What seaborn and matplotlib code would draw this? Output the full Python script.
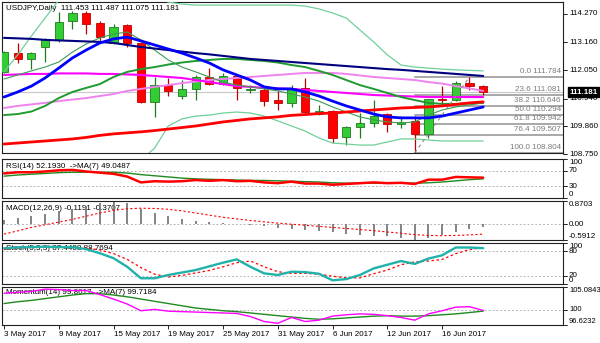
import numpy as np
import pandas as pd
import matplotlib
matplotlib.use("Agg")
import matplotlib.pyplot as plt
import matplotlib.transforms as mtransforms
from matplotlib.patches import Rectangle
import seaborn as sns

# ---- daily sessions -------------------------------------------------------
sessions = pd.bdate_range("2017-05-03", "2017-06-21")
tick_dates = ["2017-05-03", "2017-05-09", "2017-05-15", "2017-05-19", "2017-05-25",
              "2017-05-31", "2017-06-06", "2017-06-12", "2017-06-16"]

# ---- USDJPY daily OHLC ----------------------------------------------------
opens = [111.99, 112.73, 112.50, 112.97, 113.25, 113.99, 114.31, 113.92, 113.13, 113.84,
         113.13, 110.81, 111.47, 111.04, 111.32, 111.79, 111.51, 111.83, 111.28, 111.28,
         110.88, 110.77, 111.36, 110.33, 110.45, 109.43, 109.82, 109.98, 110.33, 109.94,
         110.06, 109.55, 110.92, 110.88, 111.55, 111.453]
highs = [112.80, 113.13, 112.77, 113.33, 114.35, 114.37, 114.37, 113.99, 113.88, 113.88,
         113.17, 111.79, 111.75, 111.67, 111.87, 112.14, 111.95, 111.87, 111.47, 111.40,
         111.24, 111.47, 111.75, 110.69, 110.49, 109.86, 110.37, 110.88, 110.37, 110.25,
         110.25, 110.94, 111.44, 111.63, 111.784, 111.487]
lows = [111.95, 112.34, 112.10, 112.38, 113.17, 113.68, 113.48, 113.21, 113.09, 112.97,
        110.77, 110.22, 111.04, 110.92, 110.88, 111.47, 111.47, 110.88, 111.16, 110.65,
        110.49, 110.61, 110.37, 110.30, 109.19, 109.11, 109.39, 109.82, 109.62, 109.78,
        108.804, 109.39, 110.65, 110.84, 111.28, 111.075]
closes = [112.77, 112.50, 112.73, 113.29, 113.96, 114.31, 113.88, 113.36, 113.76, 113.13,
          110.81, 111.47, 111.24, 111.32, 111.79, 111.51, 111.83, 111.36, 111.32, 110.84,
          110.77, 111.36, 110.41, 110.45, 109.39, 109.82, 109.98, 110.25, 109.94, 110.02,
          109.55, 110.92, 110.88, 111.55, 111.43, 111.181]

# ---- moving averages and Bollinger bands on the price chart ---------------
ma_navy = [113.33, 113.31, 113.29, 113.25, 113.23, 113.21, 113.19, 113.17, 113.13, 113.05,
           112.97, 112.91, 112.85, 112.79, 112.73, 112.68, 112.62, 112.56, 112.50, 112.46,
           112.42, 112.38, 112.34, 112.30, 112.26, 112.22, 112.18, 112.14, 112.10, 112.07,
           112.03, 111.99, 111.95, 111.91, 111.87, 111.83]
ma_blue = [111.00, 111.20, 111.43, 111.75, 112.14, 112.54, 112.85, 113.13, 113.29, 113.36,
           113.21, 113.05, 112.89, 112.73, 112.54, 112.34, 112.07, 111.87, 111.67, 111.40,
           111.32, 111.32, 111.20, 111.04, 110.84, 110.65, 110.49, 110.33, 110.22, 110.18,
           110.18, 110.18, 110.25, 110.37, 110.49, 110.61]
ma_magenta = [111.87, 111.89, 111.91, 111.91, 111.93, 111.93, 111.93, 111.91, 111.91, 111.89,
              111.87, 111.83, 111.79, 111.75, 111.67, 111.59, 111.51, 111.43, 111.40, 111.36,
              111.34, 111.32, 111.28, 111.24, 111.20, 111.16, 111.12, 111.08, 111.06, 111.04,
              111.02, 111.00, 111.00, 111.00, 111.00, 111.00]
ma_violet = [110.57, 110.65, 110.71, 110.77, 110.84, 110.90, 110.96, 111.04, 111.12, 111.24,
             111.32, 111.40, 111.47, 111.55, 111.61, 111.67, 111.71, 111.75, 111.79, 111.83,
             111.87, 111.91, 111.95, 111.95, 111.95, 111.91, 111.85, 111.79, 111.75, 111.71,
             111.67, 111.59, 111.53, 111.43, 111.34, 111.24]
bb_middle = [110.29, 110.33, 110.43, 110.65, 110.96, 111.20, 111.36, 111.51, 111.79, 111.99,
             112.10, 112.18, 112.28, 112.36, 112.42, 112.46, 112.50, 112.50, 112.46, 112.42,
             112.36, 112.26, 112.18, 112.03, 111.87, 111.67, 111.47, 111.32, 111.16, 111.00,
             110.88, 110.77, 110.73, 110.73, 110.75, 110.77]
ma_fast = [111.71, 111.87, 112.03, 112.18, 112.38, 112.77, 113.09, 113.33, 113.48, 113.56,
           113.25, 112.85, 112.46, 112.18, 111.99, 111.79, 111.59, 111.47, 111.40, 111.32,
           111.24, 111.12, 111.00, 110.84, 110.61, 110.41, 110.22, 110.10, 110.02, 109.98,
           110.02, 110.29, 110.49, 110.61, 110.69, 110.77]
ma_red = [109.15, 109.19, 109.23, 109.27, 109.31, 109.35, 109.41, 109.49, 109.55, 109.59,
          109.63, 109.68, 109.74, 109.80, 109.86, 109.94, 110.02, 110.08, 110.14, 110.18,
          110.22, 110.28, 110.31, 110.35, 110.37, 110.41, 110.45, 110.49, 110.53, 110.57,
          110.59, 110.61, 110.65, 110.71, 110.77, 110.81]
bb_upper = [111.99, 112.66, 113.40, 114.11, 114.82, 115.14, 115.21, 115.29, 115.29, 115.21,
            115.06, 114.90, 114.74, 114.66, 114.62, 114.62, 114.62, 114.62, 114.62, 114.62,
            114.62, 114.62, 114.58, 114.47, 114.31, 114.11, 113.64, 113.17, 112.66, 112.26,
            112.18, 112.14, 112.10, 112.07, 112.05, 112.03]
bb_lower = [107.60, 107.60, 107.50, 107.50, 107.60, 107.70, 107.90, 108.00, 108.20, 108.40,
            108.52, 108.99, 109.86, 110.14, 110.25, 110.29, 110.37, 110.41, 110.37, 110.25,
            110.06, 109.86, 109.66, 109.39, 109.19, 109.15, 109.11, 109.11, 109.23, 109.35,
            109.35, 109.31, 109.27, 109.27, 109.27, 109.27]

# ---- Fibonacci retracement of the 108.804 -> 111.784 swing ------------------
fib_pct = ["0.0", "23.6", "38.2", "50.0", "61.8", "76.4", "100.0"]
fib_levels = [111.784, 111.081, 110.646, 110.294, 109.942, 109.507, 108.804]
swing_low_bar, swing_high_bar = 30, 34

price_ticks = [114.270, 113.160, 112.050, 110.940, 109.860, 108.750]
last_price = 111.181

# ---- oscillators ------------------------------------------------------------
rsi = [63, 66, 66, 68, 71, 72, 68, 65, 62, 55, 40, 43, 42, 43, 46, 44, 46, 43, 44, 40,
       38, 42, 37, 37, 34, 36, 38, 40, 38, 39, 36, 47, 47, 54, 53, 52.193]
rsi_ma = [56, 59, 61, 63, 65, 66, 66, 66, 66, 64, 60, 57, 54, 51, 49, 48, 47, 46, 45, 45,
          44, 43, 42, 41, 39, 38, 38, 38, 38, 38, 38, 39, 41, 44, 47, 49.0487]
macd = [0.17, 0.24, 0.31, 0.39, 0.49, 0.58, 0.68, 0.79, 0.87, 0.78,
        0.58, 0.41, 0.29, 0.20, 0.12, 0.08, 0.05, 0.02, -0.02, -0.08,
        -0.13, -0.17, -0.21, -0.25, -0.30, -0.35, -0.39, -0.43, -0.45, -0.50,
        -0.59, -0.52, -0.40, -0.29, -0.19, -0.1191]
macd_signal = [-0.37, -0.25, -0.12, -0.02, 0.08, 0.18, 0.30, 0.42, 0.52, 0.58,
               0.60, 0.59, 0.56, 0.50, 0.42, 0.34, 0.26, 0.20, 0.14, 0.09,
               0.04, 0.00, -0.04, -0.08, -0.12, -0.16, -0.20, -0.24, -0.29, -0.34,
               -0.39, -0.42, -0.43, -0.42, -0.40, -0.3707]
stoch_k = [87, 89, 90, 91, 90, 90, 85, 75, 63, 42, 14, 14, 22, 28, 34, 43, 52, 60, 42, 26,
           22, 30, 29, 25, 9, 12, 22, 38, 47, 56, 49, 62, 70, 89, 89, 87.4488]
stoch_d = [84, 87, 89, 90, 90, 90, 88, 83, 74, 60, 40, 24, 17, 21, 27, 33, 42, 52, 56, 42,
           30, 26, 26, 24, 19, 15, 15, 25, 34, 47, 54, 56, 60, 74, 84, 88.7694]
momentum = [103.7, 103.9, 104.1, 104.6, 104.5, 104.3, 104.3, 103.4, 102.4, 101.3,
            99.8, 100.1, 99.7, 99.6, 99.5, 99.4, 99.3, 99.2, 98.5, 97.4,
            97.0, 98.3, 97.4, 97.7, 98.6, 98.9, 99.1, 99.0, 98.7, 98.3,
            97.7, 99.1, 99.8, 100.6, 100.7, 99.8617]
momentum_ma = [101.4, 101.8, 102.1, 102.5, 102.9, 103.3, 103.6, 103.6, 103.3, 102.9,
               102.4, 101.9, 101.4, 100.9, 100.4, 100.1, 99.8, 99.6, 99.3, 99.0,
               98.7, 98.4, 98.1, 97.9, 98.0, 98.2, 98.4, 98.6, 98.7, 98.6,
               98.6, 98.7, 98.9, 99.1, 99.4, 99.7184]

macd_range = (-0.5912, 0.8703)
momentum_range = (96.6232, 105.0843)

# ---- figure ---------------------------------------------------------------
sns.set_style("white")
plt.rcParams["font.family"] = ["Liberation Sans", "DejaVu Sans"]
plt.rcParams["font.size"] = 5.8

W, H = 600, 343
PLOT_W = 561
fig = plt.figure(figsize=(W / 100, H / 100), dpi=100)
fig.patch.set_facecolor("white")


def panel(top, bottom, left=2, right=563):
    return fig.add_axes([left / W, 1 - bottom / H, (right - left) / W, (bottom - top) / H])


ax_main = panel(2, 153)
ax_rsi = panel(159, 198)
ax_macd = panel(201, 240)
ax_sto = panel(243, 284)
ax_mom = panel(287, 325)
all_axes = [ax_main, ax_rsi, ax_macd, ax_sto, ax_mom]

x = np.arange(len(sessions))
xlim = (-0.146, 40.83)
dotted = dict(color="#b4b4b4", lw=0.7, ls=(0, (2, 2)), zorder=1)


def right_labels(ax, values, texts, vas, size=5.8):
    trans = mtransforms.blended_transform_factory(ax.transAxes, ax.transData)
    for v, t, va in zip(values, texts, vas):
        ax.plot([1, 1 + 4 / PLOT_W], [v, v], transform=trans, color="black",
                lw=0.6, clip_on=False)
        ax.text(1 + 6 / PLOT_W, v, t, transform=trans, ha="left", va=va,
                clip_on=False, color="black", fontsize=size)


def title(ax, text, px_top, height_px):
    ax.text(4 / PLOT_W, 1 - px_top / height_px, text, transform=ax.transAxes,
            ha="left", va="top", color="black", zorder=0.5)


# ---- price panel ------------------------------------------------------------
ax_main.axhline(last_price, color="#c8c8c8", lw=0.8, zorder=1)

tr_main = mtransforms.blended_transform_factory(ax_main.transAxes, ax_main.transData)
for p, v in zip(fib_pct, fib_levels):
    ax_main.plot([swing_low_bar, xlim[1]], [v, v], color="#a8a8a8", lw=1.4, zorder=1.2)
    ax_main.annotate(f"{p} {v:.3f}", xy=(1, v), xycoords=tr_main, xytext=(-1.5, 1.2),
                     textcoords="offset points", ha="right", va="bottom",
                     color="#7a7a7a", zorder=1.3)

for i in range(len(opens)):
    o, h, l, c = opens[i], highs[i], lows[i], closes[i]
    up = c >= o
    face = "#32cd32" if up else "#ff0000"
    edge = "#1f7a1f" if up else "#c00000"
    ax_main.plot([i, i], [l, h], color=edge, lw=0.9, zorder=2, solid_capstyle="butt")
    body = max(abs(c - o), 0.012)
    ax_main.add_patch(Rectangle((i - 0.3, min(o, c)), 0.6, body, facecolor=face,
                                edgecolor=edge, lw=0.6, zorder=3))

price_lines = [
    (bb_upper, "#6fd09a", 0.9),
    (bb_lower, "#6fd09a", 0.9),
    (ma_violet, "#ee82ee", 1.4),
    (ma_magenta, "#ff00ff", 1.5),
    (bb_middle, "#1f9a2f", 1.4),
    (ma_fast, "#3c9a55", 0.8),
    (ma_red, "#ff0000", 2.0),
    (ma_navy, "#000080", 1.5),
    (ma_blue, "#0000ff", 2.0),
]
for vals, col, lw in price_lines:
    sns.lineplot(x=x, y=vals, ax=ax_main, color=col, linewidth=lw, zorder=4)

ax_main.plot([swing_low_bar, swing_high_bar], [lows[swing_low_bar], highs[swing_high_bar]],
             color="#8c8c8c", lw=0.8, ls=(0, (3, 3)), zorder=4.5)

ax_main.set_ylim(108.797, 114.742)
right_labels(ax_main, price_ticks, [f"{v:.3f}" for v in price_ticks], ["center"] * 6)
ax_main.text(1 + 6 / PLOT_W, last_price, f"{last_price:.3f}", transform=tr_main,
             ha="left", va="center", color="white", clip_on=False, zorder=10,
             fontweight="bold",
             bbox=dict(boxstyle="square,pad=0.18", facecolor="black", edgecolor="black"))
title(ax_main, f"USDJPY,Daily  {opens[-1]:.3f} {highs[-1]:.3f} {lows[-1]:.3f} {closes[-1]:.3f}",
      3.5, 151)

# ---- RSI ---------------------------------------------------------------------
for lvl in (70, 30):
    ax_rsi.axhline(lvl, **dotted)
sns.lineplot(x=x, y=rsi_ma, ax=ax_rsi, color="#1f8a1f", linewidth=1.0, zorder=3)
sns.lineplot(x=x, y=rsi, ax=ax_rsi, color="#ff0000", linewidth=1.8, zorder=4)
ax_rsi.set_ylim(0, 100)
right_labels(ax_rsi, [100, 70, 30, 0], ["100", "70", "30", "0"],
             ["top", "center", "center", "bottom"])
title(ax_rsi, f"RSI(14) {rsi[-1]:.4f}  ->MA(7) {rsi_ma[-1]:.4f}", 3.5, 39)

# ---- MACD --------------------------------------------------------------------
ax_macd.axhline(0, **dotted)
ax_macd.vlines(x, 0, macd, color="#7a7a7a", lw=1.3, zorder=2)
sns.lineplot(x=x, y=macd_signal, ax=ax_macd, color="#ff0000", linewidth=0.8,
             linestyle=(0, (2, 2)), zorder=3)
ax_macd.set_ylim(*macd_range)
right_labels(ax_macd, [macd_range[1], 0, macd_range[0]],
             [f"{macd_range[1]:.4f}", "0.00", f"{macd_range[0]:.4f}"],
             ["top", "center", "bottom"])
title(ax_macd, f"MACD(12,26,9) {macd[-1]:.4f} {macd_signal[-1]:.4f}", 3.5, 39)

# ---- Stochastic ------------------------------------------------------------
for lvl in (80, 20):
    ax_sto.axhline(lvl, **dotted)
sns.lineplot(x=x, y=stoch_d, ax=ax_sto, color="#ff0000", linewidth=0.9,
             linestyle=(0, (2, 2)), zorder=3)
sns.lineplot(x=x, y=stoch_k, ax=ax_sto, color="#20b2aa", linewidth=1.7, zorder=4)
ax_sto.set_ylim(0, 100)
right_labels(ax_sto, [100, 80, 20, 0], ["100", "80", "20", "0"],
             ["top", "center", "center", "bottom"])
title(ax_sto, f"Stoch(5,3,3) {stoch_k[-1]:.4f} {stoch_d[-1]:.4f}", 1.5, 41)

# ---- Momentum ----------------------------------------------------------------
ax_mom.axhline(100, **dotted)
sns.lineplot(x=x, y=momentum_ma, ax=ax_mom, color="#1f8a1f", linewidth=1.0, zorder=3)
sns.lineplot(x=x, y=momentum, ax=ax_mom, color="#ff00ff", linewidth=1.0, zorder=4)
ax_mom.set_ylim(*momentum_range)
right_labels(ax_mom, [momentum_range[1], 100, momentum_range[0]],
             [f"{momentum_range[1]:.4f}", "100", f"{momentum_range[0]:.4f}"],
             ["top", "center", "bottom"], size=5.5)
title(ax_mom, f"Momentum(14) {momentum[-1]:.4f}  ->MA(7) {momentum_ma[-1]:.4f}", 2.5, 38)

# ---- shared styling -------------------------------------------------------
for ax in all_axes:
    ax.set_xlim(*xlim)
    ax.set_facecolor("white")
    ax.set_xlabel("")
    ax.set_ylabel("")
    ax.set_yticks([])
    ax.grid(False)
    for s in ax.spines.values():
        s.set_visible(True)
        s.set_color("#202020")
        s.set_linewidth(0.8)
    if ax is not ax_mom:
        ax.set_xticks([])

tick_idx = [int(np.where(sessions == pd.Timestamp(d))[0][0]) for d in tick_dates]
tick_text = [f"{sessions[i].day} {sessions[i].strftime('%b %Y')}" for i in tick_idx]
ax_mom.set_xticks(tick_idx)
ax_mom.set_xticklabels(tick_text, ha="left")
ax_mom.tick_params(axis="x", bottom=True, length=3, width=0.6, pad=1.5,
                   direction="out", colors="black", labelsize=5.8)

fig.savefig("out.png", dpi=100, facecolor="white")
